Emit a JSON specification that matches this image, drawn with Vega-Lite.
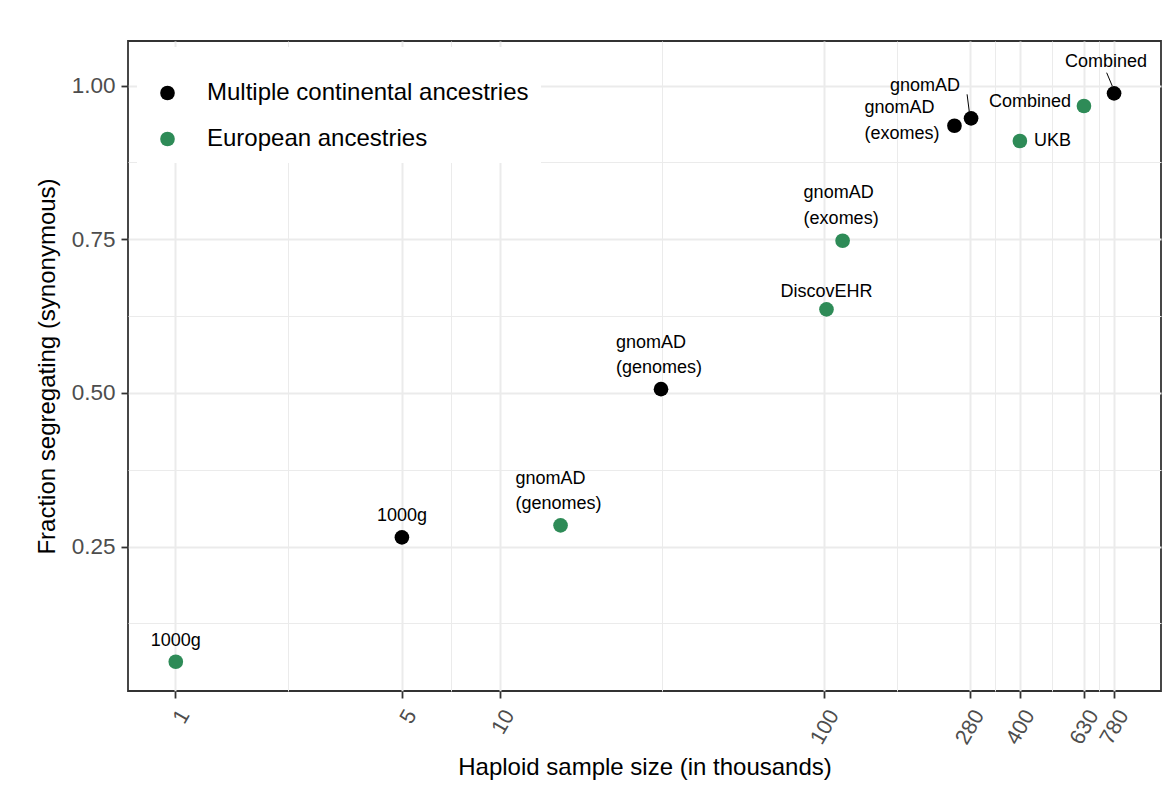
{
  "$schema": "https://vega.github.io/schema/vega-lite/v6.json",
  "width": 1033,
  "height": 650,
  "autosize": {"type": "none"},
  "padding": {"left": 128, "top": 41, "right": 15, "bottom": 113},
  "background": "white",
  "config": {
    "view": {"stroke": "#333333", "strokeWidth": 1.8},
    "font": "Liberation Sans",
    "text": {"font": "Liberation Sans"}
  },
  "data": {
    "values": [
      {"group": "Multiple continental ancestries", "label": "1000g", "n": 5.0, "frac": 0.265},
      {"group": "Multiple continental ancestries", "label": "gnomAD\n(genomes)", "n": 31.4, "frac": 0.506},
      {"group": "Multiple continental ancestries", "label": "gnomAD\n(exomes)", "n": 251.5, "frac": 0.9346},
      {"group": "Multiple continental ancestries", "label": "gnomAD", "n": 283, "frac": 0.9466},
      {"group": "Multiple continental ancestries", "label": "Combined", "n": 780, "frac": 0.9873},
      {"group": "European ancestries", "label": "1000g", "n": 1.006, "frac": 0.0626},
      {"group": "European ancestries", "label": "gnomAD\n(genomes)", "n": 15.4, "frac": 0.2845},
      {"group": "European ancestries", "label": "DiscovEHR", "n": 101.5, "frac": 0.6359},
      {"group": "European ancestries", "label": "gnomAD\n(exomes)", "n": 113.8, "frac": 0.7475},
      {"group": "European ancestries", "label": "UKB", "n": 400, "frac": 0.9097},
      {"group": "European ancestries", "label": "Combined", "n": 630, "frac": 0.9667}
    ]
  },
  "encoding": {
    "x": {
      "field": "n", "type": "quantitative",
      "scale": {"type": "log", "domain": [0.7169, 1088], "nice": false, "zero": false},
      "axis": {
        "title": "Haploid sample size (in thousands)",
        "values": [1, 2.236, 5, 7.071, 10, 31.62, 100, 167.3, 280, 334.7, 400, 502, 630, 701, 780],
        "labelExpr": "indexof([1,5,10,100,280,400,630,780], datum.value) >= 0 ? format(datum.value, 'd') : ''",
        "labelOverlap": false, "labelBound": false, "labelFlush": false,
        "labelAngle": -60, "labelAlign": "right", "labelBaseline": "top",
        "labelFontSize": 21.5, "labelColor": "#4D4D4D", "labelPadding": 8,
        "labelFont": "Liberation Sans",
        "domain": false,
        "grid": true,
        "gridColor": "#EBEBEB",
        "gridWidth": {"condition": {"test": "indexof([1,5,10,100,280,400,630,780], datum.value) >= 0", "value": 2}, "value": 1},
        "ticks": true, "tickSize": 7, "tickWidth": 1.8, "tickColor": "#333333",
        "tickOpacity": {"condition": {"test": "indexof([1,5,10,100,280,400,630,780], datum.value) >= 0", "value": 1}, "value": 0},
        "titleFontSize": 24, "titleFontWeight": "normal", "titleColor": "black", "titleFont": "Liberation Sans",
        "titlePadding": 8
      }
    },
    "y": {
      "field": "frac", "type": "quantitative",
      "scale": {"domain": [0.015, 1.0724], "nice": false, "zero": false},
      "axis": {
        "title": "Fraction segregating (synonymous)",
        "values": [0.125, 0.25, 0.375, 0.5, 0.625, 0.75, 0.875, 1.0],
        "labelExpr": "(datum.value * 1000) % 250 == 0 ? format(datum.value, '.2f') : ''",
        "labelOverlap": false, "labelBound": false, "labelFlush": false,
        "labelFontSize": 22.5, "labelColor": "#4D4D4D", "labelPadding": 6,
        "labelFont": "Liberation Sans",
        "domain": false,
        "grid": true,
        "gridColor": "#EBEBEB",
        "gridWidth": {"condition": {"test": "(datum.value * 1000) % 250 == 0", "value": 2}, "value": 1},
        "ticks": true, "tickSize": 7, "tickWidth": 1.8, "tickColor": "#333333",
        "tickOpacity": {"condition": {"test": "(datum.value * 1000) % 250 == 0", "value": 1}, "value": 0},
        "titleFontSize": 24, "titleFontWeight": "normal", "titleColor": "black", "titleFont": "Liberation Sans",
        "titlePadding": 12
      }
    }
  },
  "layer": [
    {
      "transform": [{"filter": "datum.label == 'gnomAD' && datum.group == 'Multiple continental ancestries'"}],
      "mark": {"type": "rule", "color": "black", "strokeWidth": 1, "xOffset": -4, "yOffset": -24, "x2Offset": -1.8, "y2Offset": -6.6},
      "encoding": {"x2": {"field": "n"}, "y2": {"field": "frac"}}
    },
    {
      "transform": [{"filter": "datum.label == 'Combined' && datum.group == 'Multiple continental ancestries'"}],
      "mark": {"type": "rule", "color": "black", "strokeWidth": 1, "xOffset": -7.4, "yOffset": -20.6, "x2Offset": -1.8, "y2Offset": -7.3},
      "encoding": {"x2": {"field": "n"}, "y2": {"field": "frac"}}
    },
    {
      "mark": {"type": "circle", "size": 215, "opacity": 1},
      "encoding": {
        "color": {
          "field": "group", "type": "nominal",
          "scale": {"domain": ["Multiple continental ancestries", "European ancestries"], "range": ["#000000", "#2E8B57"]},
          "legend": {
            "orient": "none", "legendX": 9, "legendY": 6,
            "title": " ", "titleFontSize": 12, "titlePadding": 10,
            "fillColor": "white", "padding": 12,
            "symbolType": "circle", "symbolSize": 215, "symbolStrokeWidth": 0, "symbolOffset": 6.5,
            "labelOffset": 27.5, "labelFontSize": 24, "labelFont": "Liberation Sans", "labelColor": "black",
            "labelLimit": 0, "rowPadding": 22
          }
        }
      }
    },
    {
      "transform": [{"filter": "datum.label == '1000g'"}],
      "mark": {"type": "text", "fontSize": 18, "color": "black", "align": "center", "baseline": "alphabetic", "dy": -16},
      "encoding": {"text": {"field": "label"}}
    },
    {
      "transform": [{"filter": "datum.label == 'DiscovEHR'"}],
      "mark": {"type": "text", "fontSize": 18, "color": "black", "align": "center", "baseline": "alphabetic", "dy": -12},
      "encoding": {"text": {"field": "label"}}
    },
    {
      "transform": [{"filter": "datum.label == 'gnomAD\\n(genomes)'"}],
      "mark": {"type": "text", "fontSize": 18, "color": "black", "align": "left", "baseline": "alphabetic", "lineBreak": "\n", "lineHeight": 25, "dx": -45, "dy": -41},
      "encoding": {"text": {"field": "label"}}
    },
    {
      "transform": [{"filter": "datum.label == 'gnomAD\\n(exomes)' && datum.group == 'European ancestries'"}],
      "mark": {"type": "text", "fontSize": 18, "color": "black", "align": "left", "baseline": "alphabetic", "lineBreak": "\n", "lineHeight": 26, "dx": -39, "dy": -43},
      "encoding": {"text": {"field": "label"}}
    },
    {
      "transform": [{"filter": "datum.label == 'gnomAD\\n(exomes)' && datum.group == 'Multiple continental ancestries'"}],
      "mark": {"type": "text", "fontSize": 18, "color": "black", "align": "left", "baseline": "alphabetic", "lineBreak": "\n", "lineHeight": 26, "dx": -90, "dy": -13},
      "encoding": {"text": {"field": "label"}}
    },
    {
      "transform": [{"filter": "datum.label == 'gnomAD'"}],
      "mark": {"type": "text", "fontSize": 18, "color": "black", "align": "center", "baseline": "alphabetic", "dx": -46, "dy": -27},
      "encoding": {"text": {"field": "label"}}
    },
    {
      "transform": [{"filter": "datum.label == 'Combined' && datum.group == 'Multiple continental ancestries'"}],
      "mark": {"type": "text", "fontSize": 18, "color": "black", "align": "center", "baseline": "alphabetic", "dx": -8, "dy": -26},
      "encoding": {"text": {"field": "label"}}
    },
    {
      "transform": [{"filter": "datum.label == 'Combined' && datum.group == 'European ancestries'"}],
      "mark": {"type": "text", "fontSize": 18, "color": "black", "align": "right", "baseline": "alphabetic", "dx": -13, "dy": 1},
      "encoding": {"text": {"field": "label"}}
    },
    {
      "transform": [{"filter": "datum.label == 'UKB'"}],
      "mark": {"type": "text", "fontSize": 18, "color": "black", "align": "left", "baseline": "alphabetic", "dx": 14, "dy": 5},
      "encoding": {"text": {"field": "label"}}
    }
  ]
}
